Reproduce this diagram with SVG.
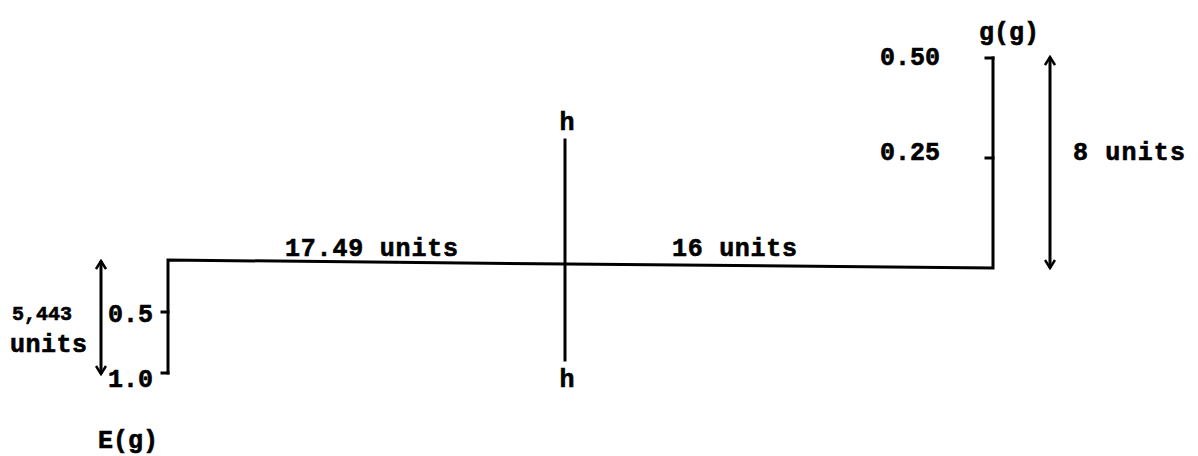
<svg xmlns="http://www.w3.org/2000/svg" width="1198" height="456" viewBox="0 0 1198 456">
<style>
text{font-family:"Liberation Mono","DejaVu Sans Mono",monospace;font-weight:bold;font-size:25px;fill:#000;stroke:#000;stroke-width:0.6}
.sm{font-size:20px}
.ln{stroke:#000;stroke-width:3;fill:none;stroke-linecap:square}
.arr{stroke:#000;stroke-width:3;fill:none}
</style>
<defs>
<marker id="ah" viewBox="0 0 12 12" refX="10" refY="6" markerWidth="12" markerHeight="12" markerUnits="userSpaceOnUse" orient="auto-start-reverse">
<path d="M2,1 L10,6 L2,11" fill="none" stroke="#000" stroke-width="2.5"/>
</marker>
</defs>
<rect width="1198" height="456" fill="#fff"/>
<g id="connectors">
<path class="ln" d="M168,373 L168,260 L567,264 L993,268 L993,58"/>
<line class="ln" x1="565" y1="140" x2="565" y2="360"/>
<line class="ln" x1="162" y1="312" x2="168" y2="312"/>
<line class="ln" x1="162" y1="373" x2="168" y2="373"/>
<line class="ln" x1="986" y1="58" x2="993" y2="58"/>
<line class="ln" x1="986" y1="158" x2="993" y2="158"/>
<line class="arr" x1="101" y1="261" x2="101" y2="374" marker-start="url(#ah)" marker-end="url(#ah)"/>
<line class="arr" x1="1050" y1="57" x2="1050" y2="268" marker-start="url(#ah)" marker-end="url(#ah)"/>
</g>
<g id="E-axis">
<text x="108" y="322">0.5</text>
<text x="108" y="387">1.0</text>
<text x="128" y="448" text-anchor="middle">E(g)</text>
<text class="sm" x="12" y="320" textLength="60">5,443</text>
<text x="10" y="352" textLength="77">units</text>
</g>
<g id="g-axis">
<text x="1009" y="40" text-anchor="middle">g(g)</text>
<text x="880" y="65">0.50</text>
<text x="880" y="160">0.25</text>
<text x="1073" y="160" textLength="112">8 units</text>
</g>
<g id="h-line">
<text x="567" y="130" text-anchor="middle">h</text>
<text x="567" y="387" text-anchor="middle">h</text>
</g>
<g id="labels">
<text x="285" y="256" textLength="173">17.49 units</text>
<text x="672" y="256" textLength="125">16 units</text>
</g>
</svg>
